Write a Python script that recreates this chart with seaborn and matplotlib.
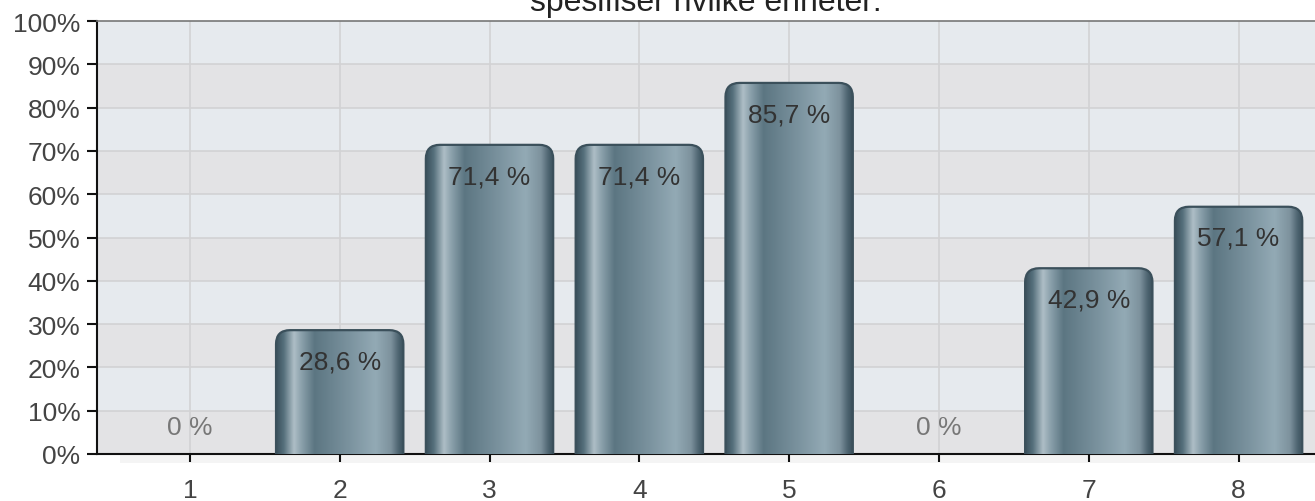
import numpy as np
import pandas as pd
import matplotlib
matplotlib.use("Agg")
import matplotlib.pyplot as plt
import seaborn as sns
from matplotlib.patches import FancyBboxPatch, Rectangle
from matplotlib.colors import LinearSegmentedColormap

# Data
categories = ["1", "2", "3", "4", "5", "6", "7", "8"]
values = [0, 28.6, 71.4, 71.4, 85.7, 0, 42.9, 57.1]
value_labels = ["0 %", "28,6 %", "71,4 %", "71,4 %", "85,7 %", "0 %", "42,9 %", "57,1 %"]
y_ticks = list(range(0, 101, 10))
title = "spesifiser hvilke enheter:"

sns.set_theme(style="white")
plt.rcParams["font.family"] = ["Liberation Sans", "DejaVu Sans"]

fig = plt.figure(figsize=(13.15, 5.02), dpi=100)
ax = fig.add_axes([97 / 1315, 47 / 502, 1 - 97 / 1315, 433 / 502])

df = pd.DataFrame({"cat": categories, "val": values})
sns.barplot(data=df, x="cat", y="val", ax=ax, width=0.85, color="#5e7885",
            zorder=3, saturation=1)

XMIN, XMAX = -0.62, 7.51
ax.set_xlim(XMIN, XMAX)
ax.set_ylim(0, 100)

# Alternating horizontal background bands
ax.set_facecolor("#e6eaee")
for i, lo in enumerate(y_ticks[:-1]):
    ax.axhspan(lo, lo + 10, color="#e3e3e5" if i % 2 == 0 else "#e6eaee",
               zorder=0, lw=0)
for t in y_ticks[1:-1]:
    ax.axhline(t, color="#d2d2d4", lw=1.2, zorder=1)
for i in range(len(categories)):
    ax.axvline(i, color="#d2d2d4", lw=1.2, zorder=1)

# Cylinder-like shading across each bar
shade = LinearSegmentedColormap.from_list("shade", [
    (0.00, "#3a505c"), (0.06, "#56707c"), (0.14, "#aebec6"), (0.20, "#8aa0ab"),
    (0.30, "#5c7682"), (0.55, "#78909c"), (0.78, "#93aab5"), (0.90, "#7d929d"),
    (0.96, "#4d6470"), (1.00, "#3a505c")])
grad = np.linspace(0, 1, 256).reshape(1, -1)

x_per_px = (XMAX - XMIN) / (1315 - 97)
y_per_px = 100 / 433
for patch, v in zip(ax.patches, values):
    patch.set_visible(False)
    if v <= 0:
        continue
    x0 = patch.get_x()
    w = patch.get_width()
    r = 14 * x_per_px
    box = FancyBboxPatch((x0, -10), w, v + 10,
                         boxstyle=f"round,pad=0,rounding_size={r}",
                         mutation_aspect=y_per_px / x_per_px,
                         facecolor="none", edgecolor="#3b505b", lw=1.6, zorder=5)
    ax.add_patch(box)
    img = ax.imshow(grad, cmap=shade, aspect="auto", extent=(x0, x0 + w, -10, v),
                    zorder=4, interpolation="bilinear")
    img.set_clip_path(box)

ax.set_xlim(XMIN, XMAX)
ax.set_ylim(0, 100)

# Value labels
for i, (v, lab) in enumerate(zip(values, value_labels)):
    if v > 0:
        ax.text(i, v - 7.2, lab, ha="center", va="center", fontsize=19,
                color="#333333", zorder=6)
    else:
        ax.text(i, 6.2, lab, ha="center", va="center", fontsize=19,
                color="#777777", zorder=6)

ax.set_yticks(y_ticks)
ax.set_yticklabels([f"{t}%" for t in y_ticks])
ax.set_xlabel("")
ax.set_ylabel("")
ax.tick_params(axis="y", direction="out", length=7, width=1.5, color="#111111",
               labelsize=19, labelcolor="#444444", pad=5, left=True)
ax.tick_params(axis="x", direction="out", length=6, width=1.5, color="#111111",
               labelsize=19, labelcolor="#444444", pad=11, bottom=True)

for side in ["left", "bottom"]:
    ax.spines[side].set_color("#111111")
    ax.spines[side].set_linewidth(1.5)
ax.spines["top"].set_color("#777777")
ax.spines["top"].set_linewidth(1.2)
ax.spines["right"].set_visible(False)

# Faint shadow under the baseline, drawn beneath the axes
fig.patches.append(Rectangle((120 / 1315, 38 / 502), 1, 9 / 502,
                             transform=fig.transFigure, facecolor="#f4f4f4",
                             edgecolor="none", zorder=-1))

fig.text(706 / 1315, 1 - 11 / 502, title, ha="center", va="baseline",
         fontsize=23, color="#222222")

fig.savefig("out.png", dpi=100)
